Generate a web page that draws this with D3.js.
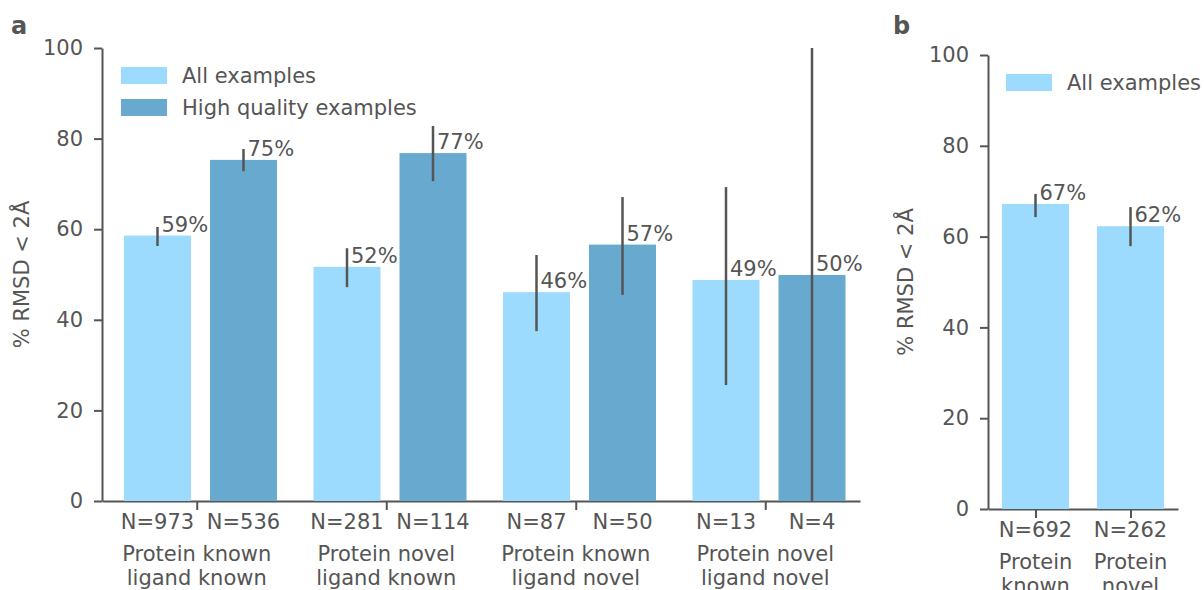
<!DOCTYPE html>
<html>
<head>
<meta charset="utf-8">
<script src="https://cdn.jsdelivr.net/npm/d3@7/dist/d3.min.js"></script>
<style>
  html, body { margin: 0; padding: 0; background: #fff; }
  svg text { font-family: "DejaVu Sans", sans-serif; fill: #555; }
</style>
</head>
<body>
<svg id="chart" width="1204" height="590"></svg>
<script>
// ---- Panel a data ----
const categoriesA = [
  ["Protein known", "ligand known"],
  ["Protein novel", "ligand known"],
  ["Protein known", "ligand novel"],
  ["Protein novel", "ligand novel"]
];
const seriesA = ["All examples", "High quality examples"];
const allValuesA = [58.6, 51.7, 46.1, 48.8];
const allLowA = [56.3, 47.2, 37.5, 25.6];
const allHighA = [60.5, 55.8, 54.3, 69.3];
const allCountsA = [973, 281, 87, 13];
const hqValuesA = [75.3, 76.8, 56.6, 49.9];
const hqLowA = [72.8, 70.6, 45.5, 0];
const hqHighA = [77.7, 82.8, 67.1, 100];
const hqCountsA = [536, 114, 50, 4];

// ---- Panel b data ----
const categoriesB = [["Protein", "known"], ["Protein", "novel"]];
const seriesB = ["All examples"];
const valuesB = [67.2, 62.3];
const lowB = [64.3, 57.9];
const highB = [69.4, 66.5];
const countsB = [692, 262];

const yTicks = [0, 20, 40, 60, 80, 100];
const colors = { "All examples": "#9cdbfe", "High quality examples": "#67a9cf" };
const ink = "#555";
const fontSize = 21;

const svg = d3.select("#chart");

function drawPanel(cfg) {
  const g = svg.append("g");
  const y = d3.scaleLinear().domain([0, 100]).range([cfg.bottom, cfg.top]);
  const x0 = d3.scaleBand().domain(d3.range(cfg.categories.length))
    .range([cfg.left, cfg.right]).paddingInner(0).paddingOuter(0);
  const x1 = d3.scaleBand().domain(cfg.series.map(s => s.name))
    .range(cfg.innerRange).paddingInner(cfg.innerPad).paddingOuter(0);

  // y axis
  const yAxis = g.append("g")
    .attr("transform", `translate(${cfg.left},0)`)
    .call(d3.axisLeft(y).tickValues(yTicks).tickSize(8).tickSizeOuter(0).tickPadding(11));
  yAxis.selectAll("path,line").attr("stroke", ink).attr("stroke-width", 2);
  yAxis.selectAll("text").attr("font-size", fontSize).style("font-family", "DejaVu Sans").attr("fill", ink);

  // x axis with ticks at the group centres
  const xAxis = g.append("g")
    .attr("transform", `translate(0,${cfg.bottom})`)
    .call(d3.axisBottom(d3.scaleLinear().domain([cfg.left, cfg.right]).range([cfg.left, cfg.right]))
      .tickValues(x0.domain().map(i => x0(i) + x0.bandwidth() / 2))
      .tickSize(9).tickSizeOuter(0).tickFormat(""));
  xAxis.selectAll("path,line").attr("stroke", ink).attr("stroke-width", 2);

  // bars, error bars and value labels
  cfg.series.forEach(s => {
    const bx = i => x0(i) + x1(s.name);
    const cx = i => bx(i) + x1.bandwidth() / 2;
    g.selectAll(null).data(s.values).enter().append("rect")
      .attr("x", (d, i) => bx(i))
      .attr("y", d => y(d))
      .attr("width", x1.bandwidth())
      .attr("height", d => y(0) - y(d))
      .attr("fill", colors[s.name]);
    g.selectAll(null).data(s.values).enter().append("line")
      .attr("x1", (d, i) => cx(i)).attr("x2", (d, i) => cx(i))
      .attr("y1", (d, i) => y(s.low[i])).attr("y2", (d, i) => y(s.high[i]))
      .attr("stroke", ink).attr("stroke-width", 2.5);
    g.selectAll(null).data(s.values).enter().append("text")
      .attr("x", (d, i) => cx(i) + 4)
      .attr("y", d => y(d) - 4)
      .attr("font-size", fontSize)
      .text(d => Math.round(d) + "%");
    g.selectAll(null).data(s.counts).enter().append("text")
      .attr("x", (d, i) => cx(i))
      .attr("y", cfg.bottom + 28)
      .attr("text-anchor", "middle")
      .attr("font-size", fontSize)
      .text(d => "N=" + d);
  });

  // category labels
  cfg.categories.forEach((lines, i) => {
    const t = g.append("text")
      .attr("x", x0(i) + x0.bandwidth() / 2)
      .attr("y", cfg.bottom + 60)
      .attr("text-anchor", "middle")
      .attr("font-size", fontSize);
    lines.forEach((ln, k) => {
      t.append("tspan").attr("x", x0(i) + x0.bandwidth() / 2).attr("dy", k === 0 ? 0 : 24).text(ln);
    });
  });

  // y axis title
  g.append("text")
    .attr("transform", `translate(${cfg.titleX},${(cfg.top + cfg.bottom) / 2}) rotate(-90)`)
    .attr("text-anchor", "middle")
    .attr("font-size", fontSize)
    .text("% RMSD < 2Å");

  // legend
  cfg.series.forEach((s, k) => {
    g.append("rect")
      .attr("x", cfg.legendX).attr("y", cfg.legendY + k * 32)
      .attr("width", 46).attr("height", 17)
      .attr("fill", colors[s.name]);
    g.append("text")
      .attr("x", cfg.legendX + 61).attr("y", cfg.legendY + k * 32 + 16)
      .attr("font-size", fontSize)
      .text(s.name);
  });

  // panel letter
  g.append("text")
    .attr("x", cfg.letterX).attr("y", 34)
    .attr("font-size", 24).attr("font-weight", "bold")
    .text(cfg.letter);
}

drawPanel({
  letter: "a", letterX: 11,
  categories: categoriesA,
  series: [
    { name: seriesA[0], values: allValuesA, low: allLowA, high: allHighA, counts: allCountsA },
    { name: seriesA[1], values: hqValuesA, low: hqLowA, high: hqHighA, counts: hqCountsA }
  ],
  left: 102, right: 860, top: 48, bottom: 501,
  innerRange: [22, 175], innerPad: 0.221,
  titleX: 29, legendX: 121, legendY: 67
});

drawPanel({
  letter: "b", letterX: 893,
  categories: categoriesB,
  series: [
    { name: seriesB[0], values: valuesB, low: lowB, high: highB, counts: countsB }
  ],
  left: 988, right: 1178, top: 55, bottom: 509,
  innerRange: [14, 81], innerPad: 0,
  titleX: 913, legendX: 1006, legendY: 74
});
</script>
</body>
</html>
